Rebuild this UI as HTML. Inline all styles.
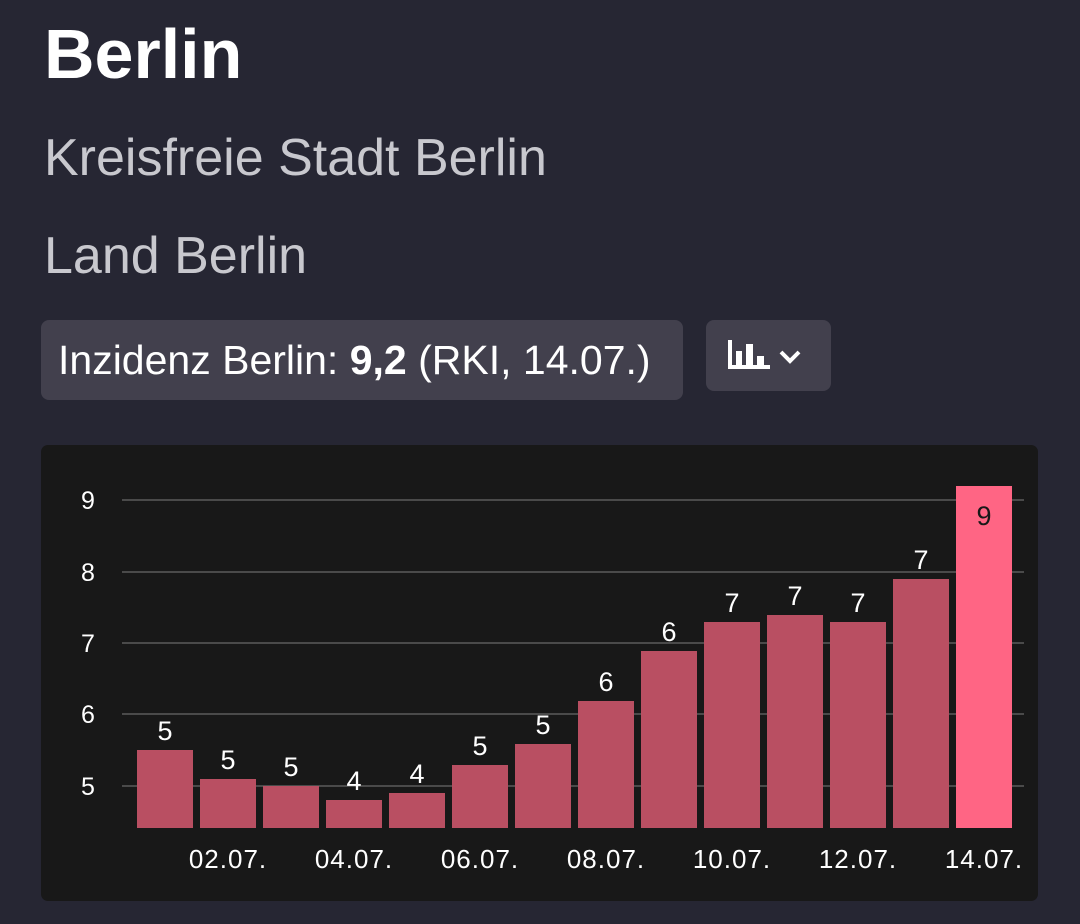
<!DOCTYPE html>
<html><head><style>
body{margin:0;width:1080px;height:924px;background:#262633;font-family:"Liberation Sans",sans-serif;overflow:hidden;position:relative;color:#fff}
.t{position:absolute;left:44px;white-space:nowrap}
</style></head><body>
<div class="t" style="top:14px;font-size:70px;font-weight:bold;letter-spacing:0px">Berlin</div>
<div class="t" style="top:128px;font-size:52px;color:#c8c8ce;font-weight:300">Kreisfreie Stadt Berlin</div>
<div class="t" style="top:226px;font-size:52px;color:#c8c8ce">Land Berlin</div>
<div style="position:absolute;left:41px;top:320px;width:642px;height:80px;background:#42404d;border-radius:8px;font-size:41px;line-height:80px;box-sizing:border-box;padding-left:17px;white-space:nowrap">Inzidenz Berlin: <b>9,2</b> (RKI, 14.07.)</div>
<div style="position:absolute;left:706px;top:320px;width:125px;height:71px;background:#42404d;border-radius:8px">
<svg width="125" height="71"><g fill="#fff"><rect x="22" y="20" width="4" height="29"/><rect x="22" y="45" width="42" height="4"/><rect x="30" y="31" width="6" height="16"/><rect x="40" y="24" width="7" height="23"/><rect x="51" y="36" width="7" height="11"/></g><polyline points="75,32 84,41 93,32" fill="none" stroke="#fff" stroke-width="4"/></svg></div>
<svg style="position:absolute;left:0;top:0" width="1080" height="924" font-family="Liberation Sans, sans-serif">
<rect x="41" y="445" width="997" height="456" rx="7" fill="#181818"/>
<g stroke="#4a4a4a" stroke-width="2"><line x1="122" x2="1024" y1="500" y2="500"/><line x1="122" x2="1024" y1="572" y2="572"/><line x1="122" x2="1024" y1="643" y2="643"/><line x1="122" x2="1024" y1="714" y2="714"/><line x1="122" x2="1024" y1="786" y2="786"/></g>
<g fill="#fff" font-size="25" text-anchor="middle"><text x="88" y="509">9</text><text x="88" y="581">8</text><text x="88" y="652">7</text><text x="88" y="723">6</text><text x="88" y="795">5</text></g>
<g fill="#b94f62">
<rect x="137" y="750" width="56" height="78"/><rect x="200" y="779" width="56" height="49"/><rect x="263" y="786" width="56" height="42"/><rect x="326" y="800" width="56" height="28"/><rect x="389" y="793" width="56" height="35"/><rect x="452" y="765" width="56" height="63"/><rect x="515" y="744" width="56" height="84"/><rect x="578" y="701" width="56" height="127"/><rect x="641" y="651" width="56" height="177"/><rect x="704" y="622" width="56" height="206"/><rect x="767" y="615" width="56" height="213"/><rect x="830" y="622" width="56" height="206"/><rect x="893" y="579" width="56" height="249"/></g>
<rect x="956" y="486" width="56" height="342" fill="#ff6584"/>
<g fill="#fff" font-size="27" text-anchor="middle">
<text x="165" y="740">5</text><text x="228" y="769">5</text><text x="291" y="776">5</text><text x="354" y="790">4</text><text x="417" y="783">4</text><text x="480" y="755">5</text><text x="543" y="734">5</text><text x="606" y="691">6</text><text x="669" y="641">6</text><text x="732" y="612">7</text><text x="795" y="605">7</text><text x="858" y="612">7</text><text x="921" y="569">7</text></g>
<text x="984" y="525" fill="#181818" font-size="27" text-anchor="middle">9</text>
<g fill="#fff" font-size="26" text-anchor="middle" letter-spacing="1"><text x="228" y="868">02.07.</text><text x="354" y="868">04.07.</text><text x="480" y="868">06.07.</text><text x="606" y="868">08.07.</text><text x="732" y="868">10.07.</text><text x="858" y="868">12.07.</text><text x="984" y="868">14.07.</text></g>
</svg>
</body></html>
